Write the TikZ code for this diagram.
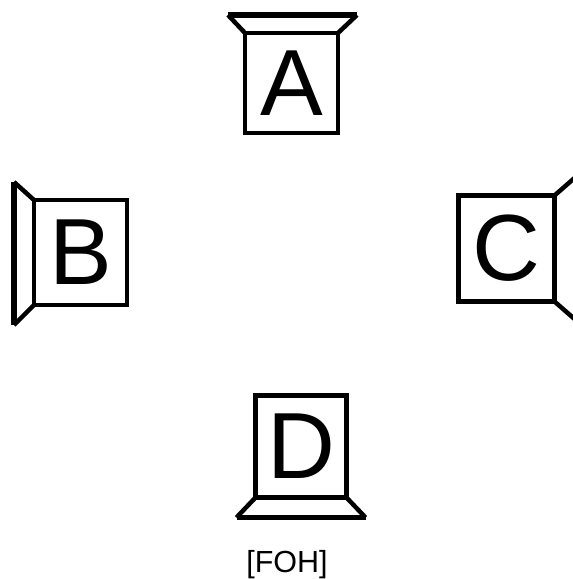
\documentclass[tikz,border=0pt]{standalone}
\usepackage{fontspec}
\setmainfont{Liberation Sans}
\begin{document}
\begin{tikzpicture}[x=1pt,y=-1pt,
  spk/.style={draw=black,line width=4.5pt,rectangle,inner sep=0pt,outer sep=0pt,
    font=\fontsize{94}{94}\selectfont},
  horn/.style={draw=black,line width=4.5pt,line join=miter},
  bar/.style={draw=black,line width=5.5pt,line cap=butt}]
\useasboundingbox (0,0) rectangle (573,579);
% boxes
\node[spk,minimum width=93pt,minimum height=100pt] (A) at (291.5,83) {A};
\node[spk,minimum width=93pt,minimum height=105pt] (B) at (80.5,252.5) {B};
\node[spk,minimum width=96pt,minimum height=106pt] (C) at (506.5,248.5) {C};
\node[spk,minimum width=91pt,minimum height=102pt] (D) at (301,446.5) {D};
% horn coordinates
\coordinate (A1) at ([shift={(-17,-18)}]A.north west);
\coordinate (A2) at ([shift={(19,-18)}]A.north east);
\coordinate (B1) at ([shift={(-20,-18)}]B.north west);
\coordinate (B2) at ([shift={(-20,20)}]B.south west);
\coordinate (C1) at ([shift={(24,-21)}]C.north east);
\coordinate (C2) at ([shift={(24,21)}]C.south east);
\coordinate (D1) at ([shift={(-19,20)}]D.south west);
\coordinate (D2) at ([shift={(19,20)}]D.south east);
% horns
\draw[horn] (A.north west) -- (A1);
\draw[horn] (A.north east) -- (A2);
\draw[bar] (A1) -- (A2);
\draw[horn] (B.north west) -- (B1);
\draw[horn] (B.south west) -- (B2);
\draw[bar] (B1) -- (B2);
\draw[horn] (C.north east) -- (C1);
\draw[horn] (C.south east) -- (C2);
\draw[bar] (C1) -- (C2);
\draw[horn] (D.south west) -- (D1);
\draw[horn] (D.south east) -- (D2);
\draw[bar] (D1) -- (D2);
% label
\node[font=\fontsize{30.5}{30.5}\selectfont,inner sep=0pt,anchor=base] (foh) at (287,572.5) {[FOH]};
\end{tikzpicture}
\end{document}
